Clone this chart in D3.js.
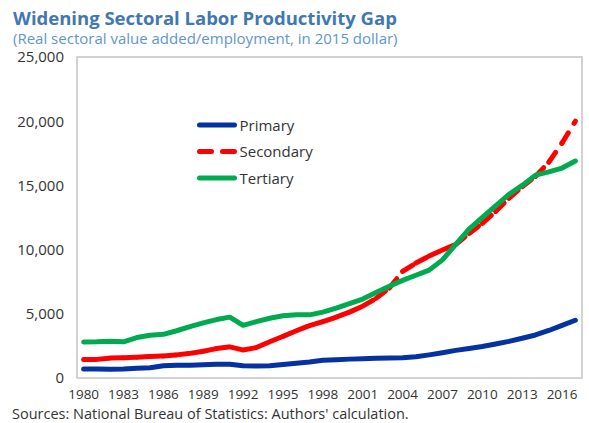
<!DOCTYPE html>
<html>
<head>
<meta charset="utf-8">
<script src="https://cdn.jsdelivr.net/npm/d3@7"></script>
<style>
  body { margin: 0; background: #fff; }
  svg { display: block; }
</style>
</head>
<body>
<script>
var years = d3.range(1980, 2018);

var primary = [
  700, 700, 690, 700, 760, 800, 950, 1000, 1000, 1030,
  1070, 1070, 950, 940, 960, 1060, 1150, 1250, 1380, 1430,
  1470, 1500, 1530, 1560, 1580, 1650, 1800, 1970, 2150, 2300,
  2450, 2650, 2850, 3100, 3350, 3700, 4100, 4500
];

var secondary = [
  1450, 1450, 1550, 1580, 1620, 1680, 1710, 1800, 1920, 2080,
  2290, 2420, 2180, 2370, 2820, 3240, 3680, 4080, 4390, 4740,
  5130, 5600, 6200, 7000, 8300, 8950, 9500, 9970, 10400, 11260,
  12050, 12970, 14000, 14900, 15700, 16800, 18300, 20000
];

var tertiary = [
  2800, 2820, 2870, 2820, 3150, 3330, 3400, 3680, 4000, 4290,
  4550, 4740, 4100, 4390, 4650, 4850, 4920, 4920, 5130, 5450,
  5800, 6150, 6650, 7150, 7600, 8000, 8400, 9200, 10400, 11600,
  12500, 13400, 14300, 15000, 15800, 16050, 16350, 16900
];

var seriesNames = ['Primary', 'Secondary', 'Tertiary'];
var yTicks = [0, 5000, 10000, 15000, 20000, 25000];
var xTickYears = d3.range(1980, 2018, 3);

var w = 589,
    h = 423;

var plotL = 77,
    plotR = 582,
    plotT = 57,
    plotB = 378;

var FONT = '"Open Sans", sans-serif';

var svg = d3.select('body').append('svg')
  .attr('width', w)
  .attr('height', h);

var x = d3.scaleBand()
  .domain(years)
  .range([plotL, plotR]);

var y = d3.scaleLinear()
  .domain([0, 25000])
  .range([plotB, plotT]);

function cx(d) { return x(d) + x.bandwidth() / 2; }

// title
svg.append('text')
  .attr('x', 13)
  .attr('y', 25)
  .attr('fill', '#4178b1')
  .style('font-family', FONT)
  .style('font-size', '18.5px')
  .style('font-weight', 'bold')
  .text('Widening Sectoral Labor Productivity Gap');

svg.append('text')
  .attr('x', 13)
  .attr('y', 44)
  .attr('fill', '#5e96cb')
  .style('font-family', FONT)
  .style('font-size', '15px')
  .text('(Real sectoral value added/employment, in 2015 dollar)');

// frame
svg.append('rect')
  .attr('x', plotL)
  .attr('y', plotT)
  .attr('width', plotR - plotL)
  .attr('height', plotB - plotT)
  .attr('fill', 'none')
  .attr('stroke', '#c4c4c4')
  .attr('stroke-width', 1.5);

// y axis
var yAxis = svg.append('g')
  .attr('transform', 'translate(' + plotL + ',0)')
  .call(d3.axisLeft(y).tickValues(yTicks).tickSize(0).tickPadding(13).tickFormat(d3.format(',')));
yAxis.select('.domain').remove();
yAxis.selectAll('.tick text').style('font-size', '15px');

// x axis
var xAxis = svg.append('g')
  .attr('transform', 'translate(0,' + plotB + ')')
  .call(d3.axisBottom(x).tickValues(xTickYears).tickSize(0).tickPadding(11));
xAxis.select('.domain').remove();
xAxis.selectAll('.tick text').style('font-size', '13.5px');

svg.selectAll('.tick text')
  .attr('fill', '#333')
  .style('font-family', FONT);

var line = d3.line()
  .x(function(d) { return cx(d[0]); })
  .y(function(d) { return y(d[1]); });

function pairs(values) {
  return years.map(function(yr, i) { return [yr, values[i]]; });
}

var lines = svg.append('g')
  .attr('fill', 'none')
  .attr('stroke-width', 5)
  .attr('stroke-linecap', 'round')
  .attr('stroke-linejoin', 'round');

lines.append('path')
  .datum(pairs(primary))
  .attr('stroke', '#0432a0')
  .attr('d', line);

// the dash pattern restarts on every segment, like the source chart
var secPts = pairs(secondary);
lines.selectAll('.sec')
  .data(d3.pairs(secPts))
  .enter()
  .append('path')
    .attr('class', 'sec')
    .attr('stroke', '#ff0000')
    .attr('stroke-dasharray', '12,11')
    .attr('d', function(d) { return line(d); });

lines.append('path')
  .datum(pairs(tertiary))
  .attr('stroke', '#00aa4f')
  .attr('d', line);

// legend
var legend = svg.append('g')
  .attr('transform', 'translate(199.5,125)');

var legendColors = ['#0432a0', '#ff0000', '#00aa4f'];

legend.selectAll('.legLine')
  .data(seriesNames)
  .enter()
  .append('line')
    .attr('x1', 0)
    .attr('x2', 35)
    .attr('y1', function(d, i) { return i * 26.5; })
    .attr('y2', function(d, i) { return i * 26.5; })
    .attr('stroke', function(d, i) { return legendColors[i]; })
    .attr('stroke-width', 5)
    .attr('stroke-linecap', 'round')
    .attr('stroke-dasharray', function(d, i) { return i === 1 ? '12,11' : null; });

legend.selectAll('.legText')
  .data(seriesNames)
  .enter()
  .append('text')
    .attr('x', 40)
    .attr('y', function(d, i) { return i * 26.5 + 5.5; })
    .attr('fill', '#333')
    .style('font-family', FONT)
    .style('font-size', '15px')
    .text(function(d) { return d; });

// source note
svg.append('text')
  .attr('x', 12)
  .attr('y', 419)
  .attr('fill', '#333')
  .style('font-family', FONT)
  .style('font-size', '14.5px')
  .text('Sources: National Bureau of Statistics: Authors\' calculation.');
</script>
</body>
</html>
